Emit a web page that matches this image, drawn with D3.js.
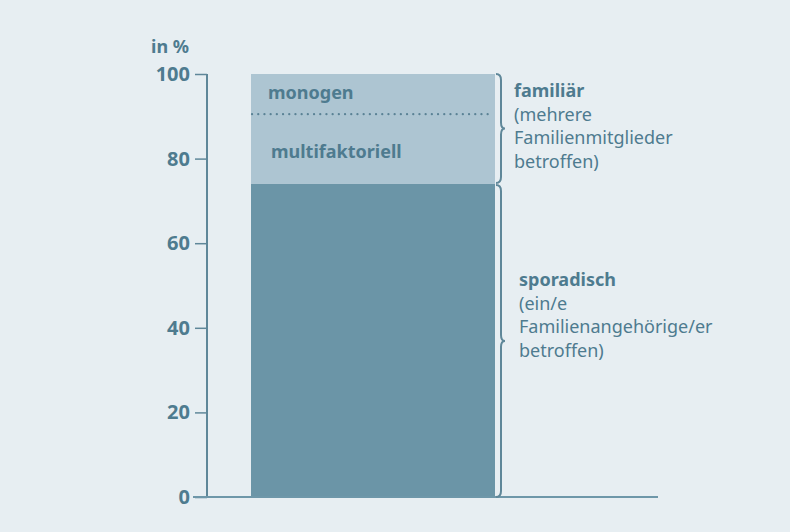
<!DOCTYPE html>
<html>
<head>
<meta charset="utf-8">
<script src="https://cdn.jsdelivr.net/npm/d3@7"></script>
<style>
  body { margin: 0; background: #e7eef2; }
  svg { display: block; font-family: "Noto Sans", sans-serif; }
</style>
</head>
<body>
<svg id="chart" width="790" height="532"></svg>
<script>
// shares of cases, stacked bottom to top
var segments = ["sporadisch", "multifaktoriell", "monogen"];
var shares = [74, 16.5, 9.5];
var yTicks = [0, 20, 40, 60, 80, 100];
var familiarLines = ["(mehrere", "Familienmitglieder", "betroffen)"];
var sporadicLines = ["(ein/e", "Familienangehörige/er", "betroffen)"];

var textColor = "#4e7b8f";
var axisColor = "#5f8799";

var svg = d3.select("#chart");
var margin = {top: 74, left: 207, bottom: 35},
    height = +svg.attr("height") - margin.top - margin.bottom;

var y = d3.scaleLinear().domain([0, 100]).range([margin.top + height, margin.top]);
var x = d3.scaleBand().domain(["all"]).range([251, 495]).padding(0);

// stack the values
var stacked = [], acc = 0;
shares.forEach(function(v, i) {
  stacked.push({key: segments[i], y0: acc, y1: acc + v});
  acc += v;
});

// dark bar for sporadisch, light bar for familiär (multifaktoriell + monogen)
var bars = [
  {y0: stacked[0].y0, y1: stacked[0].y1, fill: "#6b95a7"},
  {y0: stacked[1].y0, y1: stacked[2].y1, fill: "#adc5d2"}
];
svg.append("g").selectAll("rect")
  .data(bars)
  .enter().append("rect")
  .attr("x", x("all"))
  .attr("width", x.bandwidth())
  .attr("y", function(d) { return y(d.y1); })
  .attr("height", function(d) { return y(d.y0) - y(d.y1); })
  .attr("fill", function(d) { return d.fill; });

// dotted divider between multifaktoriell and monogen
svg.append("line")
  .attr("x1", x("all") + 1)
  .attr("x2", x("all") + x.bandwidth() - 4)
  .attr("y1", y(stacked[2].y0))
  .attr("y2", y(stacked[2].y0))
  .attr("stroke", "#5a8295")
  .attr("stroke-width", 2.2)
  .attr("stroke-dasharray", "0.1,6.1")
  .attr("stroke-linecap", "round");

// segment labels inside bar
svg.append("text")
  .attr("x", x("all") + 17)
  .attr("y", 99)
  .attr("fill", textColor).attr("font-weight", "bold").attr("font-size", 18)
  .text(segments[2]);
svg.append("text")
  .attr("x", x("all") + 20)
  .attr("y", 158)
  .attr("fill", textColor).attr("font-weight", "bold").attr("font-size", 18)
  .text(segments[1]);

// y axis
var axis = svg.append("g")
  .attr("transform", "translate(" + margin.left + ",0)")
  .call(d3.axisLeft(y).tickValues(yTicks).tickSize(12).tickPadding(5));
axis.select(".domain").remove();
axis.selectAll(".tick line").attr("stroke", axisColor).attr("stroke-width", 1.5);
axis.selectAll(".tick text")
  .attr("fill", textColor).attr("font-size", 20).attr("font-weight", "bold")
  .attr("font-family", "Noto Sans, sans-serif");
axis.append("line")
  .attr("y1", y(100)).attr("y2", y(0))
  .attr("stroke", axisColor).attr("stroke-width", 2);

// baseline
svg.append("line")
  .attr("x1", 193).attr("x2", 658)
  .attr("y1", y(0)).attr("y2", y(0))
  .attr("stroke", "#6e97a9").attr("stroke-width", 2);

svg.append("text")
  .attr("x", 189).attr("y", 53)
  .attr("text-anchor", "end")
  .attr("fill", textColor).attr("font-size", 18).attr("font-weight", "bold")
  .text("in %");

// curly braces
function brace(x0, ya, yb, w) {
  var ym = (ya + yb) / 2, r = 6;
  return "M" + x0 + "," + ya +
    " Q" + (x0 + w) + "," + ya + " " + (x0 + w) + "," + (ya + r) +
    " L" + (x0 + w) + "," + (ym - r) +
    " Q" + (x0 + w) + "," + ym + " " + (x0 + w + 4) + "," + ym +
    " Q" + (x0 + w) + "," + ym + " " + (x0 + w) + "," + (ym + r) +
    " L" + (x0 + w) + "," + (yb - r) +
    " Q" + (x0 + w) + "," + yb + " " + x0 + "," + yb;
}
var bx = x("all") + x.bandwidth() + 1;
svg.append("path")
  .attr("d", brace(bx, y(100), y(stacked[1].y0) - 1, 5))
  .attr("fill", "none").attr("stroke", axisColor).attr("stroke-width", 2);
svg.append("path")
  .attr("d", brace(bx, y(stacked[0].y1) + 1, y(0), 5))
  .attr("fill", "none").attr("stroke", axisColor).attr("stroke-width", 2);

// side annotations
function note(xp, yp, title, lines) {
  var t = svg.append("text").attr("x", xp).attr("y", yp).attr("fill", textColor).attr("font-size", 18);
  t.append("tspan").attr("x", xp).attr("font-weight", "bold").text(title);
  lines.forEach(function(l) {
    t.append("tspan").attr("x", xp).attr("dy", 23.7).text(l);
  });
}
note(514, 97, "familiär", familiarLines);
note(519, 286, "sporadisch", sporadicLines);
</script>
</body>
</html>
